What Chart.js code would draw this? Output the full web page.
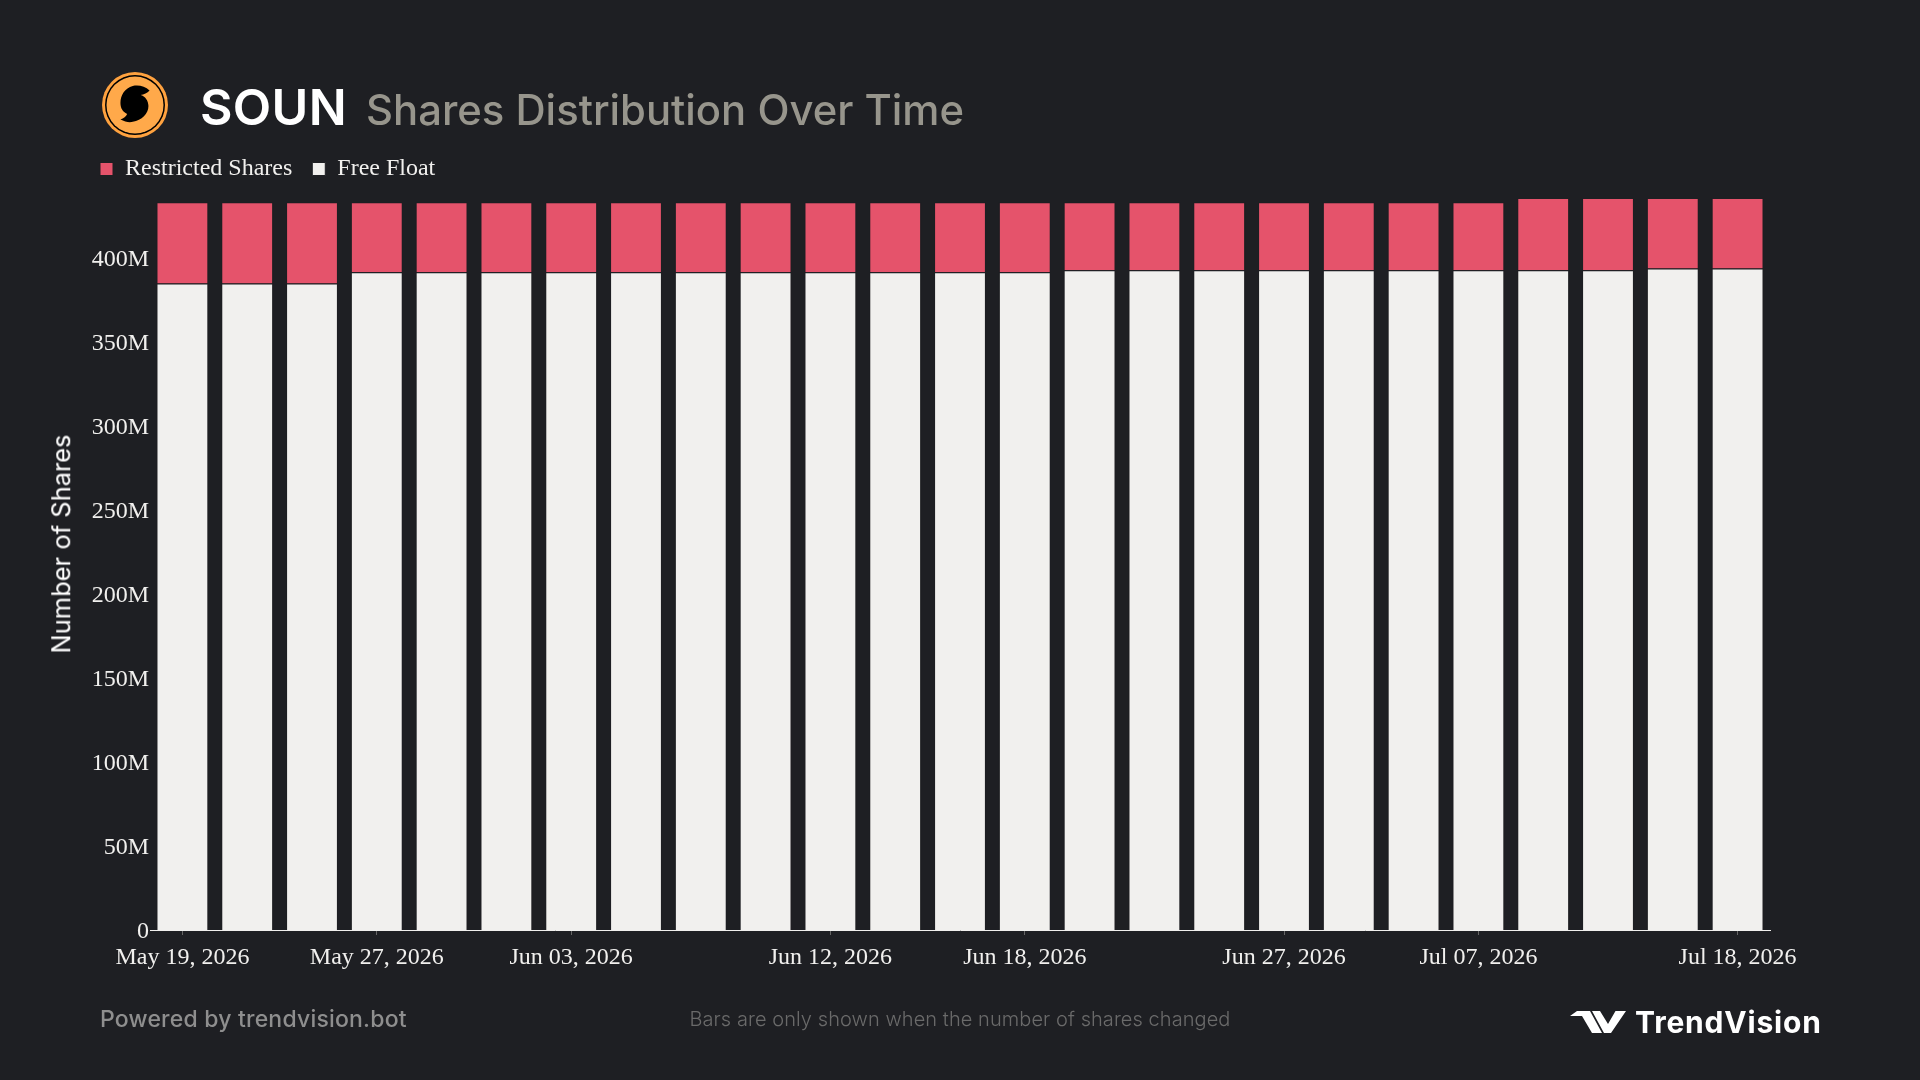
<!DOCTYPE html>
<html>
<head>
<meta charset="utf-8">
<title>SOUN Shares Distribution Over Time</title>
<script src="https://cdn.jsdelivr.net/npm/chart.js@4"></script>
<style>
  html, body { margin: 0; padding: 0; background: #1e1f23; }
  #page { position: relative; width: 1920px; height: 1080px; overflow: hidden; font-family: Inter, sans-serif; }
  #chart { position: absolute; left: 0; top: 0; }
  .text { position: absolute; white-space: nowrap; line-height: 1; }
  #ticker { left: 200px; top: 82px; font-size: 50px; font-weight: 600; color: #ffffff; letter-spacing: 0.3px; }
  #heading { left: 366px; top: 90px; font-size: 41.8px; font-weight: 500; color: #97958c; }
  #axisTitle { left: 61px; top: 544px; font-size: 25.5px; color: #ffffff; transform: translate(-50%, -50%) rotate(-90deg); }
  #powered { left: 100px; top: 1008px; font-size: 23px; font-weight: 500; color: #8e8e8e; letter-spacing: 0.2px; }
  #note { left: 960px; top: 1009px; font-size: 20px; font-weight: 300; color: #6a6a6a; transform: translateX(-50%); letter-spacing: 0.07px; }
  #brand { left: 1635px; top: 1007px; font-size: 30px; font-weight: 700; color: #ffffff; letter-spacing: 0.8px; }
  svg { position: absolute; }
</style>
</head>
<body>
<div id="page">
  <canvas id="chart" width="1920" height="1080"></canvas>

  <svg style="left:100px;top:70px" width="70" height="70" viewBox="0 0 70 70">
    <circle cx="35" cy="35" r="33" fill="#ffa23f"/>
    <circle cx="35" cy="35" r="30" fill="#000000"/>
    <circle cx="35" cy="35" r="28.5" fill="#ffa94a"/>
    <path fill="#000000" transform="translate(35 35) scale(1.12) translate(-35 -35)" d="M48,22 C44,18 38,17 33,18 C26,20 22,26 22,33 C22,38 24,41 28,43 C27,45 25,47 22,48 C26,50 30,51 33,50 C41,49 47,43 47,36 C47,31 44,27 40,26 C43,26 46,24 48,22 Z"/>
  </svg>
  <div class="text" id="ticker">SOUN</div>
  <div class="text" id="heading">Shares Distribution Over Time</div>
  <div class="text" id="axisTitle">Number of Shares</div>
  <div class="text" id="powered">Powered by trendvision.bot</div>
  <div class="text" id="note">Bars are only shown when the number of shares changed</div>
  <svg style="left:1570px;top:1011px" width="56" height="22" viewBox="0 0 56 22">
    <path fill="#ffffff" d="M0,5 L7,0 H20 L32,22 H22 L12,5 Z"/>
    <path fill="#ffffff" d="M22,0 H30 L38,13 L45.5,0 H56 L41,22 H34 Z"/>
  </svg>
  <div class="text" id="brand">TrendVision</div>
</div>

<script>
// Dates with a change in share count
const dates = [
  "May 19, 2026", "May 20, 2026", "May 22, 2026", "May 27, 2026", "May 28, 2026",
  "May 29, 2026", "Jun 03, 2026", "Jun 04, 2026", "Jun 08, 2026", "Jun 10, 2026",
  "Jun 12, 2026", "Jun 15, 2026", "Jun 16, 2026", "Jun 18, 2026", "Jun 19, 2026",
  "Jun 23, 2026", "Jun 24, 2026", "Jun 27, 2026", "Jun 30, 2026", "Jul 02, 2026",
  "Jul 07, 2026", "Jul 09, 2026", "Jul 13, 2026", "Jul 15, 2026", "Jul 18, 2026"
];

// Only these dates get a tick and a label
const tickLabels = [
  "May 19, 2026", "May 27, 2026", "Jun 03, 2026", "Jun 12, 2026",
  "Jun 18, 2026", "Jun 27, 2026", "Jul 07, 2026", "Jul 18, 2026"
];

// Millions of shares
const freeFloat = [
  384.6, 384.6, 384.6, 391.2, 391.2,
  391.2, 391.2, 391.2, 391.2, 391.2,
  391.2, 391.2, 391.2, 391.2, 392.4,
  392.4, 392.4, 392.4, 392.4, 392.4,
  392.4, 392.4, 392.4, 393.5, 393.5
];
const restricted = [
  48.3, 48.3, 48.3, 41.7, 41.7,
  41.7, 41.7, 41.7, 41.7, 41.7,
  41.7, 41.7, 41.7, 41.7, 40.5,
  40.5, 40.5, 40.5, 40.5, 40.5,
  40.5, 43.0, 43.0, 41.9, 41.9
];

const yMax = 435.4;
const textColor = "#f1f0ee";
const bgColor = "#1e1f23";
const tickFont = { family: "'Liberation Serif'", size: 24 };

// The legend sits under the heading, not at the canvas edge
const legendOffset = {
  id: "legendOffset",
  afterUpdate(chart) {
    chart.legend.left = 80;
    chart.legend.top = 137;
  }
};

new Chart("chart", {
  type: "bar",
  plugins: [legendOffset],
  data: {
    labels: dates,
    datasets: [
      { label: "Free Float", data: freeFloat, backgroundColor: "#f1f0ee", borderColor: bgColor, borderWidth: 1 },
      { label: "Restricted Shares", data: restricted, backgroundColor: "#e5536b", borderColor: bgColor, borderWidth: 1 }
    ]
  },
  options: {
    responsive: false,
    animation: false,
    layout: { padding: { top: 144, right: 150, bottom: 0, left: 0 } },
    datasets: { bar: { categoryPercentage: 1, barPercentage: 0.8 } },
    plugins: {
      tooltip: { enabled: false },
      legend: {
        position: "top",
        align: "start",
        labels: {
          sort: (a, b) => b.datasetIndex - a.datasetIndex,
          color: textColor,
          font: tickFont,
          boxWidth: 13,
          boxHeight: 13,
          padding: 20
        }
      }
    },
    scales: {
      x: {
        stacked: true,
        afterBuildTicks(scale) {
          scale.ticks = scale.ticks.filter(t => tickLabels.includes(dates[t.value]));
        },
        afterFit(scale) {
          scale.height = 150;
        },
        grid: { drawOnChartArea: false, tickLength: 5, tickColor: "#666666", offset: false },
        border: { color: textColor, width: 1 },
        ticks: { color: textColor, font: tickFont, padding: 8, maxRotation: 0, autoSkip: false }
      },
      y: {
        stacked: true,
        min: 0,
        max: yMax,
        afterFit(scale) {
          scale.width = 150;
        },
        grid: { display: false, drawTicks: false },
        border: { display: false },
        ticks: {
          color: textColor,
          font: tickFont,
          padding: 1,
          labelOffset: 2,
          stepSize: 50,
          includeBounds: false,
          callback: v => (v === 0 ? "0" : v + "M")
        }
      }
    }
  }
});
</script>
</body>
</html>
